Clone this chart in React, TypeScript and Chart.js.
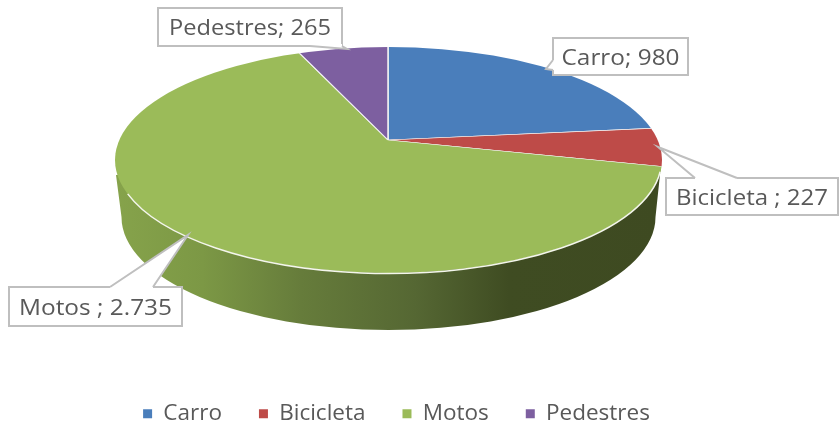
import React, { useEffect, useRef } from "react";
import { Chart, registerables } from "chart.js";

Chart.register(...registerables);

const categories = ["Carro", "Bicicleta", "Motos", "Pedestres"];
const values = [980, 227, 2735, 265];
const dataLabels = ["Carro; 980", "Bicicleta ; 227", "Motos ; 2.735", "Pedestres; 265"];
const colors = ["#4a7ebb", "#be4b48", "#9bbb59", "#7d5fa0"];

// Pie geometry (3D look)
const APEX = { x: 388, y: 140 };
const TILT = 0.41;
const TOP = { x: 388.5, y: 160, rx: 273.5, ry: 113 };
const BOTTOM = { x: 388.5, y: 217, rx: 267, ry: 113 };

// Callout boxes: [left, top, right, bottom], tail tip, tail base points
const callouts = [
  { box: [553, 38, 688, 75], tail: [[546, 69], [553, 60], [553, 70]] },
  { box: [666, 178, 838, 215], tail: [[658, 147], [695, 178], [737, 178]] },
  { box: [9, 287, 182, 326], tail: [[188, 235], [110, 287], [153, 287]] },
  { box: [158, 8, 342, 46], tail: [[347, 49], [310, 46], [342, 46]] },
];
const textWidths = [118, 152, 153, 162];

const pie3d = {
  id: "pie3d",
  beforeDatasetDraw(chart: any) {
    const ctx = chart.ctx;
    const arc = chart.getDatasetMeta(0).data[0];
    // side wall
    const g = ctx.createLinearGradient(115, 0, 662, 0);
    g.addColorStop(0, "#86a34b");
    g.addColorStop(0.16, "#7c9845");
    g.addColorStop(0.34, "#667c3b");
    g.addColorStop(0.55, "#556733");
    g.addColorStop(0.72, "#3f4c22");
    g.addColorStop(1, "#3e4a21");
    ctx.save();
    ctx.beginPath();
    ctx.moveTo(116, 175);
    ctx.lineTo(BOTTOM.x - BOTTOM.rx, BOTTOM.y);
    ctx.ellipse(BOTTOM.x, BOTTOM.y, BOTTOM.rx, BOTTOM.ry, 0, Math.PI, 0, true);
    ctx.lineTo(661, 165);
    ctx.lineTo(388, 160);
    ctx.closePath();
    ctx.fillStyle = g;
    ctx.fill();
    ctx.restore();
    // top face: wedges clipped to the ellipse
    ctx.save();
    ctx.beginPath();
    ctx.ellipse(TOP.x, TOP.y, TOP.rx, TOP.ry, 0, 0, Math.PI * 2);
    ctx.clip();
    ctx.translate(APEX.x, APEX.y);
    ctx.scale(1, TILT);
    ctx.translate(-arc.x, -arc.y);
  },
  afterDatasetDraw(chart: any) {
    const ctx = chart.ctx;
    ctx.restore();
    // white rim
    ctx.save();
    ctx.beginPath();
    ctx.ellipse(TOP.x, TOP.y + 0.5, TOP.rx - 0.5, TOP.ry, 0, 0.1, Math.PI - 0.3);
    ctx.strokeStyle = "#f4f6ec";
    ctx.lineWidth = 1.5;
    ctx.stroke();
    ctx.restore();
    // callouts
    ctx.save();
    dataLabels.forEach((label, i) => {
      const { box, tail } = callouts[i];
      const [l, t, r, b] = box;
      ctx.beginPath();
      ctx.rect(l, t, r - l, b - t);
      ctx.fillStyle = "#ffffff";
      ctx.fill();
      ctx.strokeStyle = "#bfbfbf";
      ctx.lineWidth = 2;
      ctx.stroke();
      // tail: white fill hides the box edge at its base
      const cx = (l + r) / 2;
      const cy = (t + b) / 2;
      ctx.beginPath();
      ctx.moveTo(tail[1][0], tail[1][1]);
      ctx.lineTo(tail[0][0], tail[0][1]);
      ctx.lineTo(tail[2][0], tail[2][1]);
      ctx.lineTo(tail[2][0] + Math.sign(cx - tail[2][0]) * (tail[2][0] === l ? 2 : 0), tail[2][1] + Math.sign(cy - tail[2][1]) * (tail[2][1] === t || tail[2][1] === b ? 2 : 0));
      ctx.lineTo(tail[1][0] + Math.sign(cx - tail[1][0]) * (tail[1][0] === l ? 2 : 0), tail[1][1] + Math.sign(cy - tail[1][1]) * (tail[1][1] === t || tail[1][1] === b ? 2 : 0));
      ctx.closePath();
      ctx.fill();
      ctx.beginPath();
      ctx.moveTo(tail[1][0], tail[1][1]);
      ctx.lineTo(tail[0][0], tail[0][1]);
      ctx.lineTo(tail[2][0], tail[2][1]);
      ctx.stroke();
      ctx.font = "22px 'Open Sans'";
      ctx.fillStyle = "#595959";
      ctx.textBaseline = "middle";
      const w = ctx.measureText(label).width;
      const sx = textWidths[i] / w;
      ctx.save();
      ctx.translate(cx, cy + 2);
      ctx.scale(sx, 1);
      ctx.textAlign = "center";
      ctx.fillText(label, 0, 0);
      ctx.restore();
    });
    ctx.restore();
  },
};

export default function App() {
  const ref = useRef<HTMLCanvasElement>(null);
  useEffect(() => {
    document.body.style.margin = "0";
    const chart = new Chart(ref.current as HTMLCanvasElement, {
      type: "pie",
      data: {
        labels: categories,
        datasets: [
          {
            data: values,
            backgroundColor: colors,
            borderColor: "#f2f2f2",
            borderWidth: 1.5,
            clip: false,
          } as any,
        ],
      },
      options: {
        responsive: false,
        animation: false,
        radius: 450,
        layout: { padding: { right: 46, bottom: -9 } },
        plugins: {
          tooltip: { enabled: false },
          legend: {
            position: "bottom",
            labels: {
              boxWidth: 9,
              boxHeight: 9,
              padding: 37,
              color: "#595959",
              font: { family: "'Open Sans'", size: 22.5 },
              generateLabels(c: any) {
                return Chart.overrides.pie.plugins.legend.labels
                  .generateLabels(c)
                  .map((item: any) => ({ ...item, lineWidth: 0 }));
              },
            },
          },
        },
      } as any,
      plugins: [pie3d],
    });
    return () => chart.destroy();
  }, []);
  return <canvas ref={ref} width={839} height={426} style={{ display: "block", filter: "blur(0.5px)" }} />;
}
